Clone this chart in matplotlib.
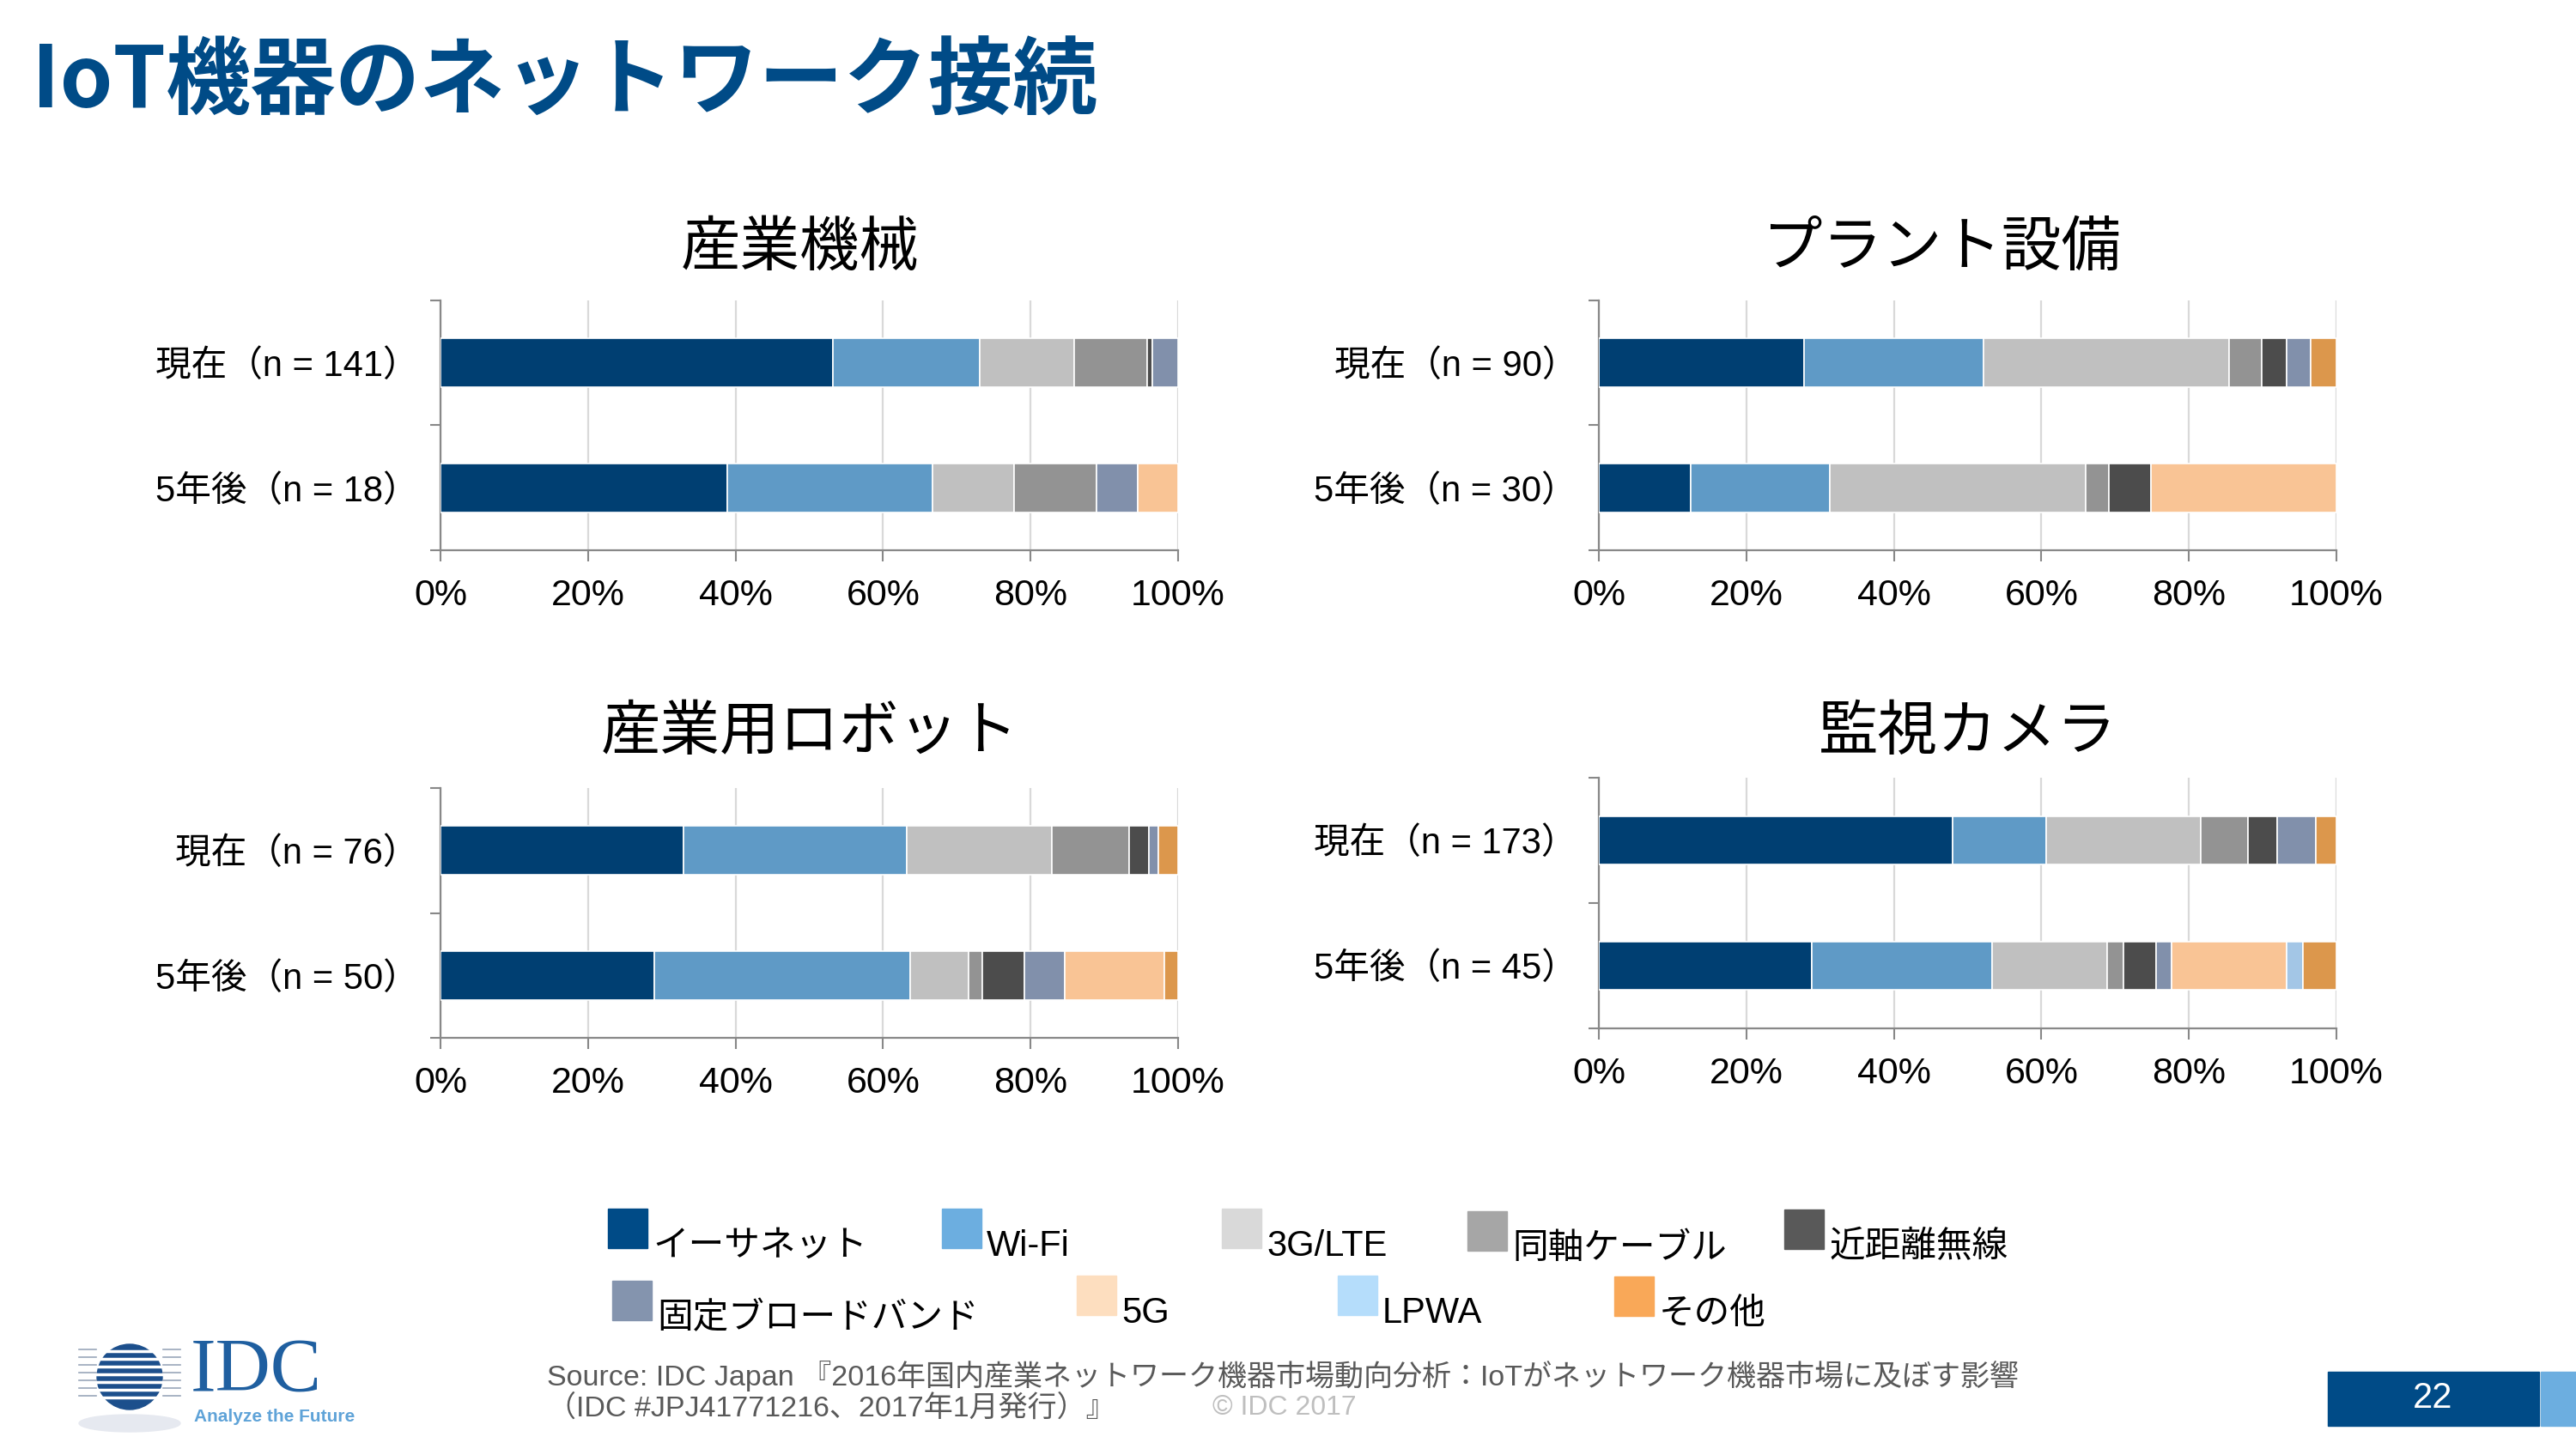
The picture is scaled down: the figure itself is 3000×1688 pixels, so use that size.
import matplotlib
matplotlib.use("Agg")
import matplotlib.pyplot as plt
from matplotlib.patches import Rectangle, Circle, Ellipse

plt.rcParams['font.family'] = ['Liberation Sans', 'Noto Sans CJK JP']

W, H = 3000, 1688

series = ['イーサネット', 'Wi-Fi', '3G/LTE', '同軸ケーブル', '近距離無線',
          '固定ブロードバンド', '5G', 'LPWA', 'その他']
bar_colors = ['#003F72', '#5F9AC6', '#C0C0C0', '#939393', '#4C4C4C',
              '#8190AB', '#F9C495', '#A3C6E6', '#DC974C']
legend_colors = ['#004B87', '#6CAEE0', '#D9D9D9', '#A6A6A6', '#595959',
                 '#8494AE', '#FDDEBF', '#B5DDFB', '#F9A858']

chart_titles = ['産業機械', 'プラント設備', '産業用ロボット', '監視カメラ']
row_labels = [['現在（n = 141）', '5年後（n = 18）'],
              ['現在（n = 90）', '5年後（n = 30）'],
              ['現在（n = 76）', '5年後（n = 50）'],
              ['現在（n = 173）', '5年後（n = 45）']]

# share (%) per series, order as in `series`
kikai_now    = [53.2, 19.9, 12.8, 9.9, 0.7, 3.5, 0, 0, 0]
kikai_5y     = [38.9, 27.8, 11.1, 11.1, 0, 5.6, 5.5, 0, 0]
plant_now    = [27.8, 24.4, 33.3, 4.4, 3.3, 3.3, 0, 0, 3.5]
plant_5y     = [12.4, 18.9, 34.7, 3.1, 5.7, 0, 25.2, 0, 0]
robot_now    = [32.9, 30.3, 19.7, 10.5, 2.6, 1.3, 0, 0, 2.7]
robot_5y     = [29.0, 34.7, 7.9, 1.8, 5.8, 5.4, 13.5, 0, 1.9]
camera_now   = [48.0, 12.7, 20.9, 6.4, 4.0, 5.2, 0, 0, 2.8]
camera_5y    = [28.9, 24.4, 15.6, 2.2, 4.4, 2.2, 15.6, 2.2, 4.5]

chart_data = [(kikai_now, kikai_5y), (plant_now, plant_5y),
              (robot_now, robot_5y), (camera_now, camera_5y)]

xticks = [0, 20, 40, 60, 80, 100]
xtick_labels = ['0%', '20%', '40%', '60%', '80%', '100%']

# axes boxes in pixels: left, top, right, bottom
boxes = [(513, 350, 1372, 641), (1862, 350, 2721, 641),
         (513, 918, 1372, 1209), (1862, 906, 2721, 1198)]
title_pos = [(932, 291), (2262, 291), (943, 855), (2292, 855)]

fig = plt.figure(figsize=(W / 100, H / 100), dpi=100)

def fx(px):
    return px / W

def fy(py):
    return 1 - py / H

for k in range(4):
    l, t, r, b = boxes[k]
    ax = fig.add_axes([fx(l), fy(b), fx(r - l), (b - t) / H])
    now, later = chart_data[k]
    for row, vals in [(1, now), (0, later)]:
        left = 0
        for i, v in enumerate(vals):
            if v > 0:
                ax.barh(row, v, left=left, height=0.39, color=bar_colors[i],
                        edgecolor='white', linewidth=1.2, zorder=3)
            left += v
    ax.set_xlim(0, 100)
    ax.set_ylim(-0.5, 1.5)
    ax.set_xticks(xticks)
    ax.set_xticklabels(xtick_labels, fontsize=31)
    ax.set_yticks([1, 0])
    ax.set_yticklabels(row_labels[k], fontsize=30)
    ax.set_yticks([-0.5, 0.5, 1.5], minor=True)
    ax.tick_params(axis='y', which='major', length=0, pad=18)
    ax.tick_params(axis='y', which='minor', length=9, width=1.5, color='#888888')
    ax.tick_params(axis='x', length=9, width=1.5, color='#888888', pad=15)
    ax.grid(axis='x', color='#D9D9D9', linewidth=1.6, zorder=0)
    ax.set_axisbelow(True)
    for s in ['top', 'right']:
        ax.spines[s].set_visible(False)
    for s in ['left', 'bottom']:
        ax.spines[s].set_color('#888888')
        ax.spines[s].set_linewidth(1.6)
    fig.text(fx(title_pos[k][0]), fy(title_pos[k][1]), chart_titles[k],
             fontsize=50, ha='center', va='center', color='black')

# main title
fig.text(fx(37), fy(96), 'IoT機器のネットワーク接続', fontsize=71,
         fontweight='bold', color='#004B87', ha='left', va='center',
         family=['Noto Sans CJK JP'])

# legend
legend_pos = [(708, 1408), (1097, 1408), (1423, 1408), (1709, 1411), (2078, 1409),
              (713, 1492), (1254, 1486), (1558, 1486), (1880, 1487)]
for i, name in enumerate(series):
    px, py = legend_pos[i]
    fig.patches.append(Rectangle((fx(px), fy(py + 46)), 46 / W, 46 / H,
                                 transform=fig.transFigure, color=legend_colors[i]))
    fig.text(fx(px + 52), fy(py + 44), name, fontsize=30, ha='left', va='center')

# footer
fig.text(fx(637), fy(1603), 'Source: IDC Japan 『2016年国内産業ネットワーク機器市場動向分析：IoTがネットワーク機器市場に及ぼす影響',
         fontsize=24.5, color='#595959', ha='left', va='center')
fig.text(fx(637), fy(1641), '（IDC #JPJ41771216、2017年1月発行）』',
         fontsize=24.5, color='#595959', ha='left', va='center')
fig.text(fx(1412), fy(1640), '© IDC 2017', fontsize=23, color='#BFBFBF',
         ha='left', va='center')

# page number box
fig.patches.append(Rectangle((fx(2711), fy(1661)), 246 / W, 63 / H,
                             transform=fig.transFigure, color='#004B87'))
fig.patches.append(Rectangle((fx(2959), fy(1661)), 41 / W, 63 / H,
                             transform=fig.transFigure, color='#6CAEE0'))
fig.text(fx(2833), fy(1629), '22', fontsize=30, color='white', ha='center', va='center')

# IDC logo
lax = fig.add_axes([fx(88), fy(1672), 126 / W, 112 / H])
lax.set_xlim(0, 126)
lax.set_ylim(0, 112)
lax.axis('off')
lax.add_patch(Ellipse((63, 14), 118, 20, color='#E6E9F0'))
lax.add_patch(Circle((63, 68), 38, color='#1C4F8C'))
for yy in range(44, 100, 9):
    lax.plot([4, 122], [yy, yy], color='white', linewidth=2.5)
    lax.plot([4, 24], [yy + 2, yy + 2], color='#9AA7BA', linewidth=1.2)
    lax.plot([102, 122], [yy + 2, yy + 2], color='#9AA7BA', linewidth=1.2)
fig.text(fx(222), fy(1598), 'IDC', fontsize=64, color='#1F5FA0',
         family=['Liberation Serif'], ha='left', va='center')
fig.text(fx(226), fy(1651), 'Analyze the Future', fontsize=15, color='#5FA3D8',
         fontweight='bold', ha='left', va='center')

fig.savefig('out.png', dpi=100)
